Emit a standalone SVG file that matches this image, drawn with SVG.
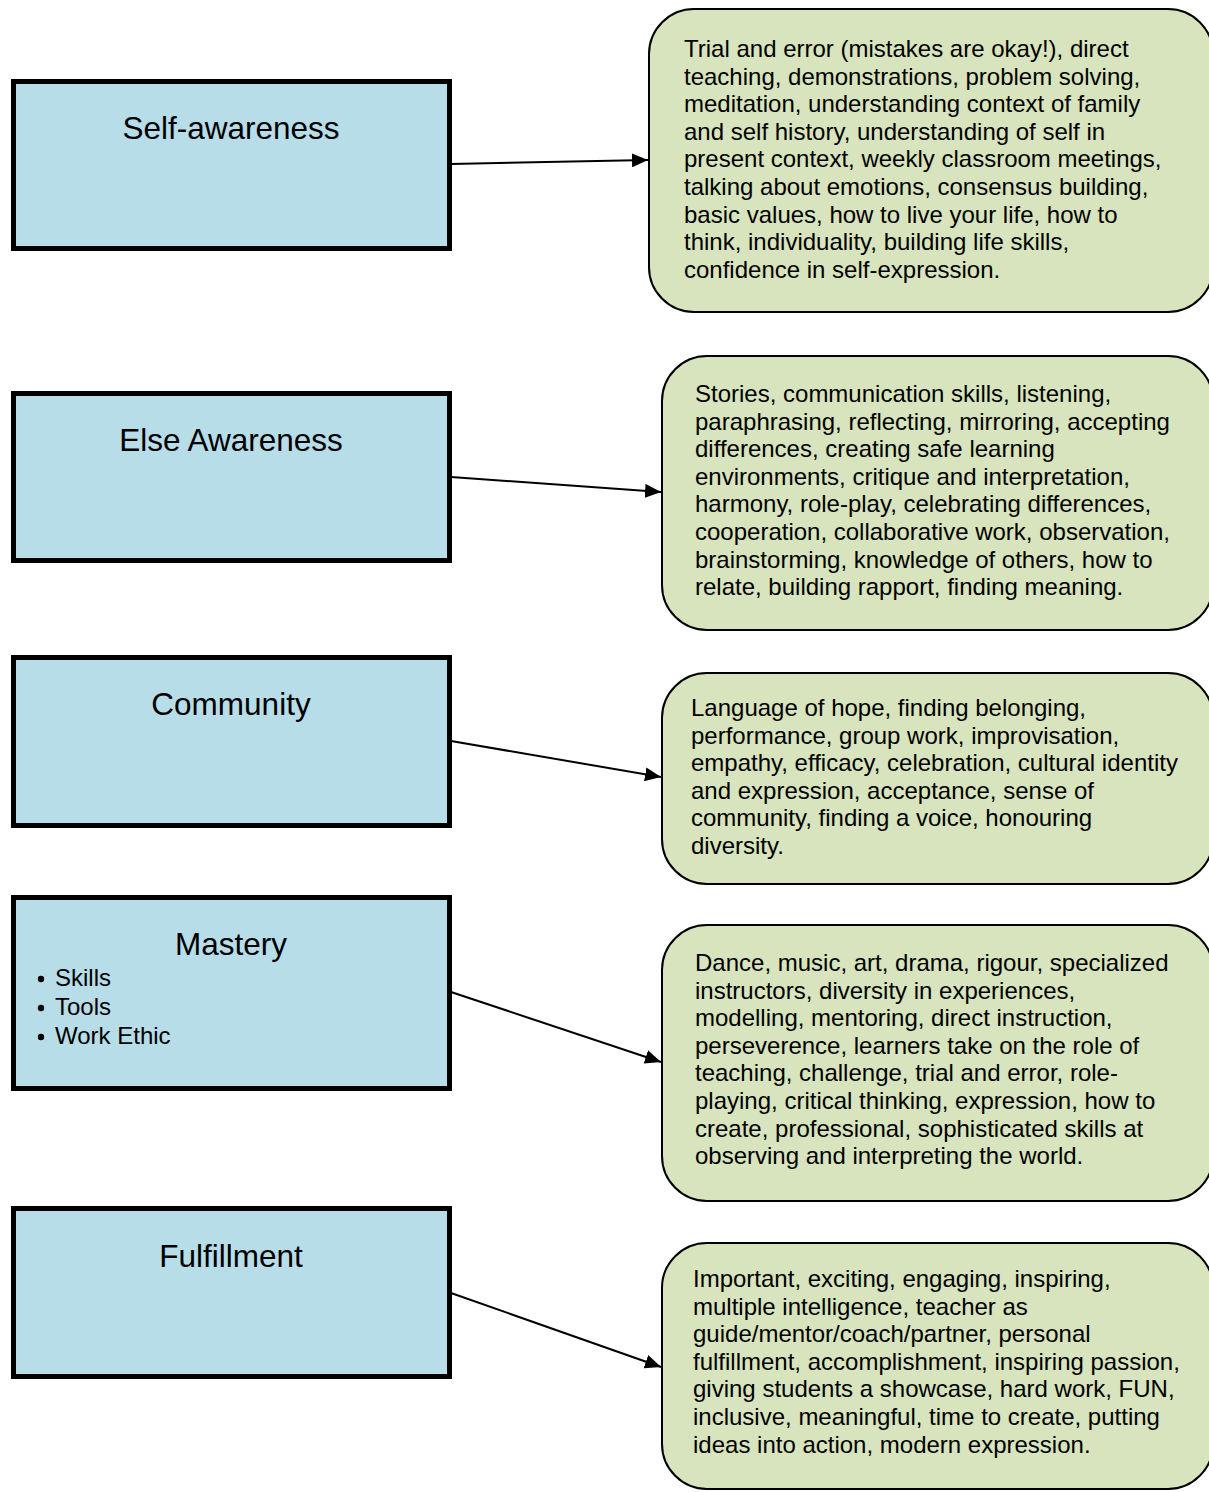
<svg xmlns="http://www.w3.org/2000/svg" width="1209" height="1492" viewBox="0 0 1209 1492">
  <style>
    .topic { fill: #b7dde8; stroke: #000; stroke-width: 5; }
    .detail { fill: #d7e4bd; stroke: #000; stroke-width: 2; }
    .title { font-family: "Liberation Sans", Arial, sans-serif; font-size: 31.5px; fill: #000; text-anchor: middle; }
    .body { font-family: "Liberation Sans", Arial, sans-serif; font-size: 24px; fill: #000; }
    .link { stroke: #000; stroke-width: 2; fill: none; marker-end: url(#arrow); }
  </style>
  <defs>
    <marker id="arrow" markerUnits="userSpaceOnUse" markerWidth="16" markerHeight="14" viewBox="0 0 16 14" refX="16" refY="7" orient="auto">
      <path d="M0,0 L16,7 L0,14 z" fill="#000"/>
    </marker>
  </defs>
  <rect width="1209" height="1492" fill="#fff"/>

  <!-- connectors -->
  <g id="connectors">
    <line class="link" x1="451" y1="164" x2="648" y2="160"/>
    <line class="link" x1="451" y1="477" x2="661" y2="492"/>
    <line class="link" x1="451" y1="741" x2="661" y2="777"/>
    <line class="link" x1="451" y1="992" x2="661" y2="1062"/>
    <line class="link" x1="451" y1="1293" x2="661" y2="1367"/>
  </g>

  <!-- topic boxes -->
  <g id="self-awareness">
    <rect class="topic" x="13.5" y="81.5" width="436" height="167"/>
    <text class="title" x="231" y="139">Self-awareness</text>
  </g>
  <g id="else-awareness">
    <rect class="topic" x="13.5" y="393.5" width="436" height="167"/>
    <text class="title" x="231" y="451">Else Awareness</text>
  </g>
  <g id="community">
    <rect class="topic" x="13.5" y="657.5" width="436" height="168"/>
    <text class="title" x="231" y="715">Community</text>
  </g>
  <g id="mastery">
    <rect class="topic" x="13.5" y="897.5" width="436" height="191"/>
    <text class="title" x="231" y="955">Mastery</text>
    <circle cx="41" cy="979" r="3.2" fill="#000"/>
    <circle cx="41" cy="1008" r="3.2" fill="#000"/>
    <circle cx="41" cy="1037" r="3.2" fill="#000"/>
    <text class="body" x="55" y="986">Skills</text>
    <text class="body" x="55" y="1015">Tools</text>
    <text class="body" x="55" y="1044">Work Ethic</text>
  </g>
  <g id="fulfillment">
    <rect class="topic" x="13.5" y="1208.5" width="436" height="168"/>
    <text class="title" x="231" y="1267">Fulfillment</text>
  </g>

  <!-- detail boxes -->
  <g id="self-awareness-detail">
    <rect class="detail" x="649" y="9" width="564" height="303" rx="45" ry="45"/>
    <text class="body">
      <tspan x="684" y="57">Trial and error (mistakes are okay!), direct</tspan>
      <tspan x="684" y="84.6">teaching, demonstrations, problem solving,</tspan>
      <tspan x="684" y="112.2">meditation, understanding context of family</tspan>
      <tspan x="684" y="139.8">and self history, understanding of self in</tspan>
      <tspan x="684" y="167.4">present context, weekly classroom meetings,</tspan>
      <tspan x="684" y="195">talking about emotions, consensus building,</tspan>
      <tspan x="684" y="222.6">basic values, how to live your life, how to</tspan>
      <tspan x="684" y="250.2">think, individuality, building life skills,</tspan>
      <tspan x="684" y="277.8">confidence in self-expression.</tspan>
    </text>
  </g>
  <g id="else-awareness-detail">
    <rect class="detail" x="662" y="356" width="551" height="274" rx="45" ry="45"/>
    <text class="body">
      <tspan x="695" y="402">Stories, communication skills, listening,</tspan>
      <tspan x="695" y="429.6">paraphrasing, reflecting, mirroring, accepting</tspan>
      <tspan x="695" y="457.2">differences, creating safe learning</tspan>
      <tspan x="695" y="484.8">environments, critique and interpretation,</tspan>
      <tspan x="695" y="512.4">harmony, role-play, celebrating differences,</tspan>
      <tspan x="695" y="540">cooperation, collaborative work, observation,</tspan>
      <tspan x="695" y="567.6">brainstorming, knowledge of others, how to</tspan>
      <tspan x="695" y="595.2">relate, building rapport, finding meaning.</tspan>
    </text>
  </g>
  <g id="community-detail">
    <rect class="detail" x="662" y="673" width="551" height="211" rx="45" ry="45"/>
    <text class="body">
      <tspan x="691" y="716">Language of hope, finding belonging,</tspan>
      <tspan x="691" y="743.6">performance, group work, improvisation,</tspan>
      <tspan x="691" y="771.2">empathy, efficacy, celebration, cultural identity</tspan>
      <tspan x="691" y="798.8">and expression, acceptance, sense of</tspan>
      <tspan x="691" y="826.4">community, finding a voice, honouring</tspan>
      <tspan x="691" y="854">diversity.</tspan>
    </text>
  </g>
  <g id="mastery-detail">
    <rect class="detail" x="662" y="925" width="551" height="276" rx="45" ry="45"/>
    <text class="body">
      <tspan x="695" y="971">Dance, music, art, drama, rigour, specialized</tspan>
      <tspan x="695" y="998.6">instructors, diversity in experiences,</tspan>
      <tspan x="695" y="1026.2">modelling, mentoring, direct instruction,</tspan>
      <tspan x="695" y="1053.8">perseverence, learners take on the role of</tspan>
      <tspan x="695" y="1081.4">teaching, challenge, trial and error, role-</tspan>
      <tspan x="695" y="1109">playing, critical thinking, expression, how to</tspan>
      <tspan x="695" y="1136.6">create, professional, sophisticated skills at</tspan>
      <tspan x="695" y="1164.2">observing and interpreting the world.</tspan>
    </text>
  </g>
  <g id="fulfillment-detail">
    <rect class="detail" x="662" y="1243" width="551" height="246" rx="45" ry="45"/>
    <text class="body">
      <tspan x="693" y="1287">Important, exciting, engaging, inspiring,</tspan>
      <tspan x="693" y="1314.6">multiple intelligence, teacher as</tspan>
      <tspan x="693" y="1342.2">guide/mentor/coach/partner, personal</tspan>
      <tspan x="693" y="1369.8">fulfillment, accomplishment, inspiring passion,</tspan>
      <tspan x="693" y="1397.4">giving students a showcase, hard work, FUN,</tspan>
      <tspan x="693" y="1425">inclusive, meaningful, time to create, putting</tspan>
      <tspan x="693" y="1452.6">ideas into action, modern expression.</tspan>
    </text>
  </g>
</svg>
